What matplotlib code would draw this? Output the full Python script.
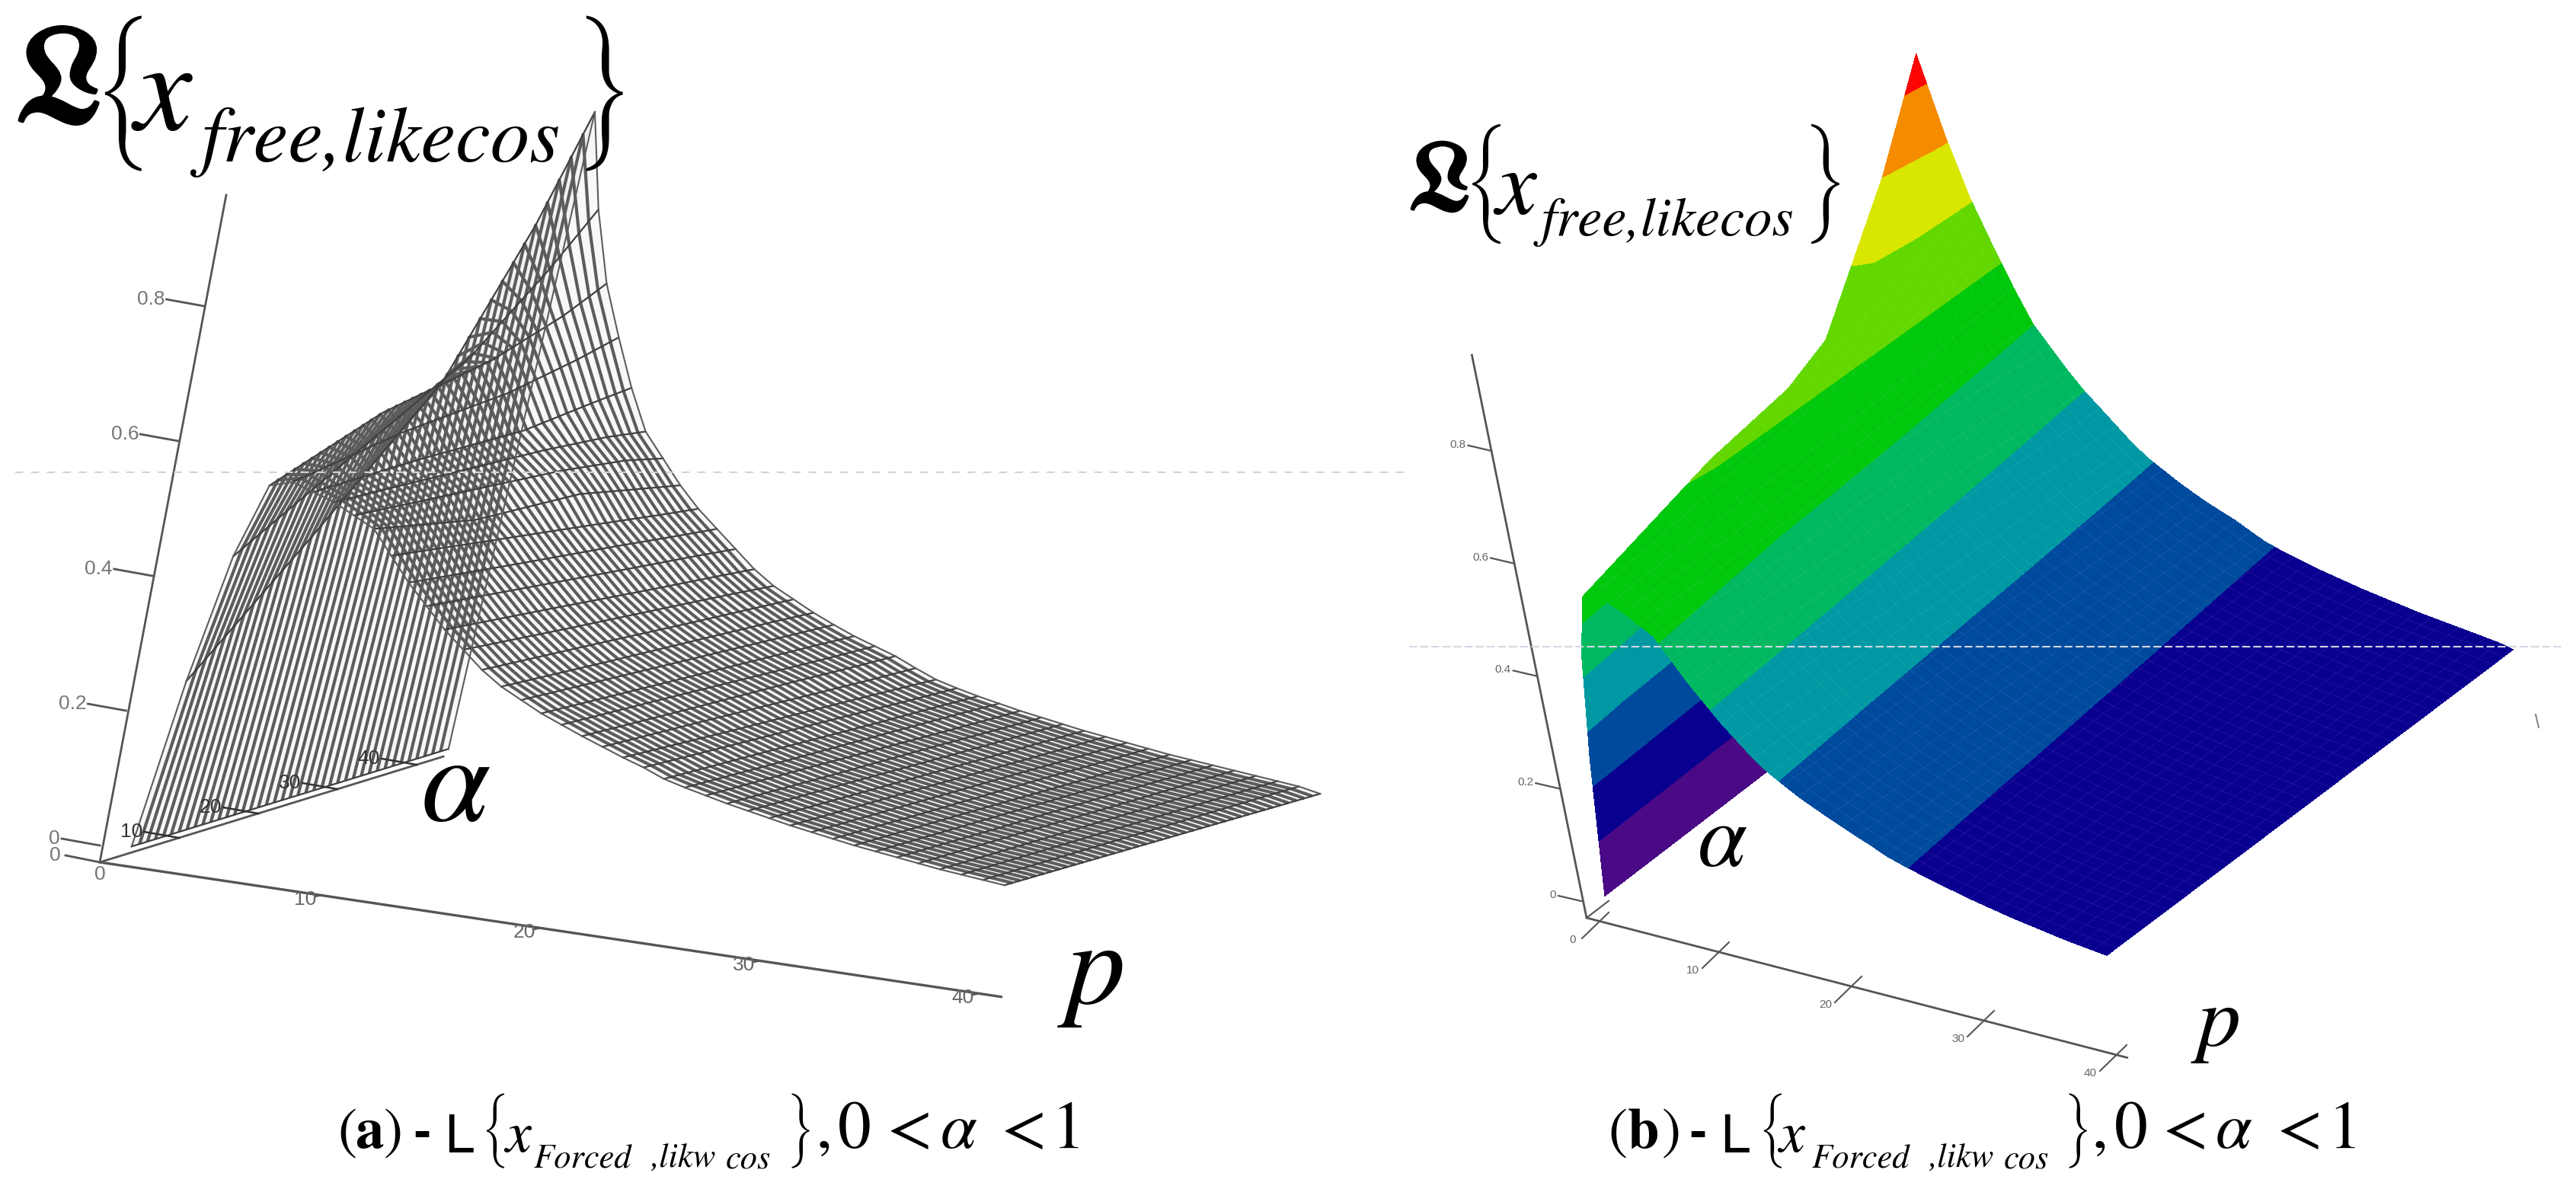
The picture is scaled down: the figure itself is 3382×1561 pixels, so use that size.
import matplotlib
matplotlib.use("Agg")
import matplotlib.pyplot as plt
import matplotlib.patheffects as pe
import numpy as np

# surface: one row per p, one column per alpha
p_vals = list(range(40))
alpha_vals = [0, 13.3, 26.7, 35, 40]
z_front = [0, .25, .44, .55, .56, .55, .54, .525, .51, .475, .44, .41, .38, .355, .33, .31, .295, .28, .268, .256,
           .245, .234, .224, .212, .204, .197, .19, .184, .178, .172, .167, .162, .157, .153, .149, .145, .141, .138, .135, .132]
z_third = [0, .42, .54, .61, .585, .55, .53, .51, .475, .45, .418, .39, .362, .338, .317, .298, .284, .27, .259, .247,
           .236, .224, .215, .205, .197, .191, .184, .179, .173, .168, .163, .158, .154, .15, .146, .143, .139, .136, .133, .129]
z_twothird = [0, .6, .64, .64, .596, .545, .52, .495, .465, .425, .397, .37, .343, .322, .303, .287, .273, .26, .249, .239,
              .226, .215, .206, .197, .191, .184, .179, .173, .168, .163, .159, .155, .15, .147, .144, .14, .137, .134, .131, .126]
z_far = [0, .8, .74, .675, .615, .555, .51, .48, .443, .409, .383, .358, .332, .312, .295, .28, .266, .254, .243, .233,
         .22, .209, .2, .193, .187, .18, .175, .17, .165, .16, .156, .152, .148, .145, .142, .139, .136, .133, .13, .124]
z_back = [0, .95, .81, .705, .63, .56, .5, .465, .43, .4, .375, .35, .325, .305, .29, .275, .262, .25, .24, .23,
          .217, .205, .197, .19, .184, .178, .173, .168, .163, .159, .155, .151, .147, .144, .141, .138, .135, .132, .129, .123]

z_ticks = [0, 0.2, 0.4, 0.6, 0.8]
axis_ticks = [10, 20, 30, 40]
levels = [0, .1, .2, .3, .4, .5, .6, .7, .8, .9, 1.0]
band_colors = ['#4a0a86', '#0a0090', '#004a9e', '#0099a3', '#00b860', '#00c80c', '#62d800', '#d9e600', '#f58c00', '#fb0505']

left = dict(origin=(131, 1110), corner=(131, 1132), a_vec=(10.4, -3.2), p_vec=(28.8, 4.3), z_vec=(172, -885),
            a_start=4.3, z_base=-0.017)
right = dict(origin=(2076, 1183), corner=(2083, 1205), a_vec=(13.3, -10.2), p_vec=(17.4, 4.5), z_vec=(-148, -739),
             a_start=2.1, z_base=-0.02)


def project(panel, a, p, z):
    a = np.asarray(a, dtype=float)
    p = np.asarray(p, dtype=float)
    z = np.asarray(z, dtype=float)
    x = panel['origin'][0] + a * panel['a_vec'][0] + p * panel['p_vec'][0] + z * panel['z_vec'][0]
    y = panel['origin'][1] + a * panel['a_vec'][1] + p * panel['p_vec'][1] + z * panel['z_vec'][1]
    return x, y


def surface(panel):
    Z = np.column_stack([z_front, z_third, z_twothird, z_far, z_back])
    A, P = np.meshgrid(alpha_vals, p_vals)
    X, Y = project(panel, A + panel['a_start'], P, Z + panel['z_base'])
    return X, Y, Z, A


def corner_line(panel, vec, t, **kw):
    x0, y0 = panel['corner']
    ax.plot([x0, x0 + vec[0] * t], [y0, y0 + vec[1] * t], solid_capstyle='round', **kw)


def put(x, y, s, size, style='normal', weight='normal', family='STIXGeneral', **kw):
    ax.text(x, y, s, fontsize=size, style=style, weight=weight, family=family, color='black', va='baseline', ha='left', **kw)


def brace(x, y, s, size):
    ax.text(x, y, s, fontsize=size, family='STIXSizeThreeSym', ha='center', va='center', color='black')


def fraktur(x, y, size, stroke):
    t = ax.text(x, y, r'$\mathfrak{L}$', fontsize=size, math_fontfamily='stix', ha='center', va='center', color='black')
    t.set_path_effects([pe.withStroke(linewidth=stroke, foreground='black')])


def tick_label(x, y, s, size, color='#666666', ha='right'):
    ax.text(x, y, s, fontsize=size, family='Liberation Sans', color=color, ha=ha, va='center', zorder=5)


fig = plt.figure(figsize=(33.82, 15.61), dpi=100)
ax = fig.add_axes([0, 0, 1, 1])

# ---- left panel, wire mesh
X, Y, Z, A = surface(left)
wire = '#5c5c5c'
ax.pcolormesh(X, Y, np.zeros((len(p_vals) - 1, len(alpha_vals) - 1)), cmap='gray', vmin=-6, vmax=1, shading='flat',
              alpha=0.18)
ax.contour(X, Y, A, levels=np.arange(1, 40), colors=wire, linewidths=3.0, linestyles='solid')
for i in range(len(p_vals)):
    ax.plot(X[i], Y[i], color='#404040', lw=1.6)
ax.plot(X[:, 0], Y[:, 0], color=wire, lw=1.5)
ax.plot(X[:, -1], Y[:, -1], color=wire, lw=1.5)

grey = '#555555'
corner_line(left, left['a_vec'], 43.4, color=grey, lw=2)
corner_line(left, left['p_vec'], 41.1, color=grey, lw=2.4)
x_top, y_top = project(left, 0, 0, 0.965)
ax.plot([left['corner'][0], x_top], [left['corner'][1], y_top], color=grey, lw=2)

for v in z_ticks:
    x, y = project(left, 0, 0, v)
    ax.plot([x, x - 50], [y, y - 9], color=grey, lw=2)
    tick_label(x - 52, y - 9, f'{v:g}', 19, '#777777')
for v in axis_ticks:
    x, y = left['corner'][0] + v * left['a_vec'][0], left['corner'][1] + v * left['a_vec'][1]
    ax.plot([x, x - 46], [y, y - 8], color='#333333', lw=1.8, zorder=4)
    tick_label(x - 48, y - 8, f'{v:g}', 19, '#333333')
    x, y = left['corner'][0] + v * left['p_vec'][0], left['corner'][1] + v * left['p_vec'][1]
    ax.plot([x + 5, x - 5], [y, y + 2], color=grey, lw=1.5)
    tick_label(x - 4, y + 6, f'{v:g}', 19)
ax.plot([86, 131], [1123, 1132], color=grey, lw=2)
tick_label(72, 1123, '0', 19, '#777777', 'center')
tick_label(131, 1148, '0', 19, '#777777', 'center')

fraktur(74, 110, 128, 3)
brace(163, 123, '{', 60)
put(177, 171, 'x', 122, style='italic')
put(264, 212, 'free,likecos', 74, style='italic')
brace(791, 123, '}', 60)
put(553, 1077, '\u03b1', 118, style='italic')
put(1400, 1317, 'p', 112, style='italic')

# ---- right panel, filled bands
X, Y, Z, A = surface(right)
# the first rows fold over themselves, so they are filled cell by cell
for i in range(3):
    for j in range(len(alpha_vals) - 1):
        ax.contourf(X[i:i + 2, j:j + 2], Y[i:i + 2, j:j + 2], Z[i:i + 2, j:j + 2], levels=levels, colors=band_colors)
ax.contourf(X[3:], Y[3:], Z[3:], levels=levels, colors=band_colors)
ax.contour(X[3:], Y[3:], A[3:], levels=np.arange(1, 40), colors='white', linewidths=0.5, alpha=0.1, linestyles='solid')
for i in range(3, len(p_vals)):
    ax.plot(X[i], Y[i], color='white', lw=0.5, alpha=0.1)

corner_line(right, right['p_vec'], 40.8, color=grey, lw=2)
x_top, y_top = project(right, 0, 0, 0.97)
ax.plot([right['corner'][0], x_top], [right['corner'][1], y_top], color=grey, lw=2)
corner_line(right, right['a_vec'], 2.2, color=grey, lw=1.5)

for v in z_ticks:
    x, y = project(right, 0, 0, v)
    ax.plot([x, x - 30], [y, y - 7], color=grey, lw=1.6)
    tick_label(x - 33, y - 8, f'{v:g}', 11)
for v in axis_ticks:
    x, y = right['corner'][0] + v * right['p_vec'][0], right['corner'][1] + v * right['p_vec'][1]
    ax.plot([x + 13, x - 22], [y - 13, y + 21], color=grey, lw=1.5)
    tick_label(x - 26, y + 24, f'{v:g}', 11)
ax.plot([2112, 2077], [1198, 1232], color=grey, lw=1.5)
tick_label(2069, 1234, '0', 11)
ax.plot([3329, 3333], [938, 955], color='#888888', lw=1.5)

fraktur(1888, 240, 92, 2)
brace(1953, 241, '{', 46)
put(1963, 280, 'x', 87, style='italic')
put(2024, 309, 'free,likecos', 52, style='italic')
brace(2395, 241, '}', 46)
put(2229, 1137, '\u03b1', 84, style='italic')
put(2885, 1373, 'p', 82, style='italic')

# dashed seams across both panels
ax.plot([20, 1845], [620, 620], color='#d2d2d2', lw=1.5, ls=(0, (5, 5)))
ax.plot([1850, 3365], [849, 849], color='#d6d6e4', lw=1.5, ls=(0, (5, 2)))


# ---- captions
def caption(x_paren, x_letter, letter, x_close, x_dash, x_l, x_brace, x_x, x_sub, x_rbrace, x_comma, x_zero, x_lt1, x_a, x_lt2, x_one):
    base = 1507
    put(x_paren, base, '(', 54)
    put(x_letter, base, letter, 54, weight='bold')
    put(x_close, base, ')', 54)
    put(x_dash, base, '-', 50, weight='bold', family='Liberation Sans')
    put(x_l, base + 6, 'L', 52, family='Liberation Sans')
    brace(x_brace, 1485, '{', 29)
    put(x_x, 1512, 'x', 55, style='italic')
    put(x_sub, 1533, 'Forced', 32, style='italic')
    put(x_sub + 153, 1533, ',likw', 32, style='italic')
    put(x_sub + 252, 1533, 'cos', 32, style='italic')
    brace(x_rbrace, 1485, '}', 29)
    put(x_comma, base, ',', 60)
    put(x_zero, base, '0', 63)
    put(x_lt1, base, '<', 62)
    put(x_a, base, '\u03b1', 62, style='italic')
    put(x_lt2, base, '<', 62)
    put(x_one, base, '1', 63)


caption(443, 466, 'a', 504, 542, 583, 650, 663, 701, 1050, 1071, 1100, 1164, 1235, 1314, 1380)
caption(2111, 2137, 'b', 2182, 2217, 2258, 2327, 2335, 2379, 2727, 2746, 2776, 2839, 2909, 2989, 3056)

ax.set_xlim(0, 3382)
ax.set_ylim(1561, 0)
ax.axis('off')
fig.savefig('out.png', dpi=100, facecolor='white')
